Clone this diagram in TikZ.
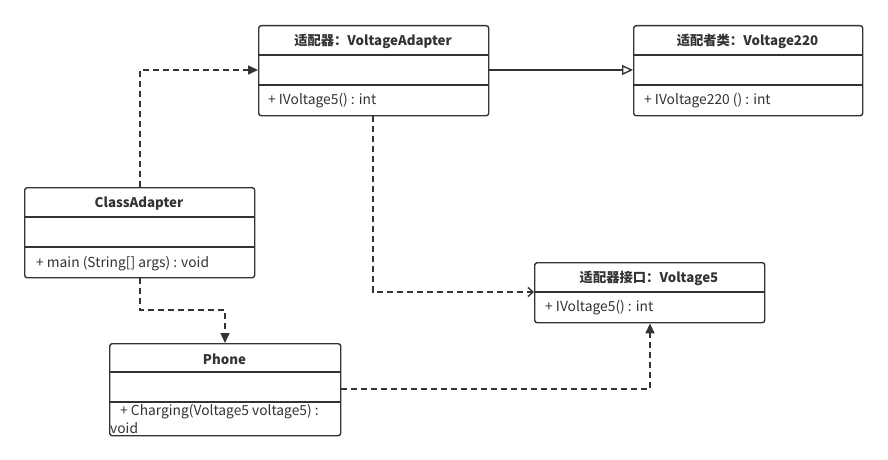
\documentclass[tikz,border=0pt]{standalone}
\usepackage{fontspec}
\setmainfont{Noto Sans CJK SC}
\usetikzlibrary{arrows.meta}
\definecolor{ink}{HTML}{333333}
\begin{document}
\begin{tikzpicture}[x=1pt,y=-1pt,
  cls/.style={draw=ink,line width=1.4pt,rounded corners=2.5pt,fill=white,anchor=north west,inner sep=0pt},
  ttl/.style={font=\fontsize{13.3}{15}\selectfont\bfseries,text=ink,inner sep=0pt},
  mth/.style={font=\fontsize{13.8}{15}\selectfont,text=ink,anchor=west,inner sep=0pt},
  div/.style={draw=ink,line width=1.4pt},
  dep/.style={draw=ink,line width=1.4pt,dash pattern=on 6pt off 4pt,-{Triangle[length=10pt,width=9pt]}},
  gen/.style={draw=ink,line width=1.4pt,-{Triangle[open,length=11pt,width=10pt,fill=white]}},
  real/.style={draw=ink,line width=1.4pt,dash pattern=on 6pt off 4pt,-{Straight Barb[length=5pt,width=9pt]}}]
\useasboundingbox (0,0) rectangle (888,460);
% VoltageAdapter
\node[cls,minimum width=230pt,minimum height=90pt] (va) at (258,25) {};
\draw[div] (258,55) -- (488,55) (258,85) -- (488,85);
\node[ttl] (vat) at (373,41) {适配器：VoltageAdapter};
\node[mth] (vam) at (268,101) {+ IVoltage5() : int};
% Voltage220
\node[cls,minimum width=229pt,minimum height=90pt] (vb) at (633,25) {};
\draw[div] (633,55) -- (862,55) (633,85) -- (862,85);
\node[ttl] (vbt) at (747.5,41) {适配者类：Voltage220};
\node[mth] (vbm) at (644,101) {+ IVoltage220 () : int};
% ClassAdapter
\node[cls,minimum width=230pt,minimum height=90pt] (ca) at (24,187) {};
\draw[div] (24,217) -- (254,217) (24,247) -- (254,247);
\node[ttl] (cat) at (139,204) {ClassAdapter};
\node[mth] (cam) at (36,264) {+ main (String[] args) : void};
% Phone
\node[cls,minimum width=231pt,minimum height=92pt] (ph) at (109,343) {};
\draw[div] (109,372) -- (340,372) (109,402) -- (340,402);
\node[ttl] (pht) at (224.5,359) {Phone};
\node[mth] (phm) at (120,412) {+ Charging(Voltage5 voltage5) :};
\node[mth] (phv) at (110,428) {void};
% Voltage5
\node[cls,minimum width=230pt,minimum height=60pt] (v5) at (534,262) {};
\draw[div] (534,292) -- (764,292);
\node[ttl] (v5t) at (649,278) {适配器接口：Voltage5};
\node[mth] (v5m) at (545,308) {+ IVoltage5() : int};
% connectors
\draw[dep] (ca.north west) ++(116,0) |- (va.north west |- 0,70);
\draw[gen] (va.east |- 0,70) -- (vb.west |- 0,70);
\draw[real] (va.south west) ++(115,0) |- (v5.west |- 0,292);
\draw[dep] (ca.south west) ++(116,0) |- (225,310) -- (ph.north west -| 225,0);
\draw[dep] (ph.east |- 0,389) -| (v5.south west -| 650,0);
\end{tikzpicture}
\end{document}
